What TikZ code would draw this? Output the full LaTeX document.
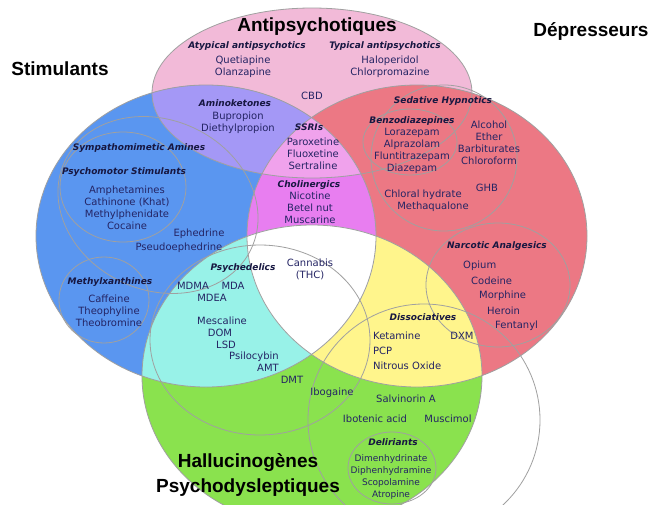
\documentclass[tikz,border=0pt]{standalone}
\usepackage{fontspec}
\setmainfont{DejaVu Sans}
\newfontfamily\headfont{Liberation Sans}
\usepackage{tikz}
\definecolor{antip}{RGB}{242, 186, 216}
\definecolor{stim}{RGB}{90, 150, 240}
\definecolor{depr}{RGB}{236, 120, 132}
\definecolor{hallu}{RGB}{138, 226, 78}
\definecolor{amino}{RGB}{164, 152, 246}
\definecolor{ssri}{RGB}{240, 162, 236}
\definecolor{choli}{RGB}{232, 126, 240}
\definecolor{psyche}{RGB}{152, 242, 232}
\definecolor{disso}{RGB}{255, 245, 140}
\definecolor{ink}{RGB}{36, 36, 100}
\definecolor{rim}{RGB}{160, 160, 160}

\def\antipshape{(312, 93) ellipse [x radius=160pt, y radius=85pt]}
\def\stimshape{(206, 236) ellipse [x radius=170pt, y radius=151pt]}
\def\deprshape{(417, 236) ellipse [x radius=170pt, y radius=151pt]}
\def\hallushape{(312, 376) ellipse [x radius=170pt, y radius=151pt]}

\tikzset{
  drugname/.style={text=ink, font=\fontsize{10}{12}\selectfont, align=center, inner sep=0pt},
  drugsmall/.style={drugname, font=\fontsize{9}{11.7}\selectfont},
  groupname/.style={text=ink!65!black, font=\fontsize{9}{11}\selectfont\bfseries\itshape, inner sep=0pt},
  classname/.style={font=\fontsize{19}{25}\selectfont\headfont\bfseries, align=center, inner sep=0pt},
  ring/.style={draw=rim, line width=0.8pt}
}

\begin{document}
\begin{tikzpicture}[x=1pt, y=-1pt]
  \useasboundingbox (0, 0) rectangle (662, 504);
  \fill[white] (0, 0) rectangle (662, 504);

  % the four classes and their overlaps
  \fill[antip] \antipshape;
  \fill[stim] \stimshape;
  \fill[depr] \deprshape;
  \fill[hallu] \hallushape;
  \begin{scope}
    \clip \deprshape;
    \fill[disso] \hallushape;
  \end{scope}
  \begin{scope}
    \clip \stimshape;
    \fill[choli] \deprshape;
    \fill[psyche] \hallushape;
    \fill[amino] \antipshape;
    \clip \deprshape;
    \fill[ssri] \antipshape;
    \fill[white] \hallushape;
  \end{scope}

  \foreach \s in {\antipshape, \stimshape, \deprshape, \hallushape}
    \draw[ring] \s;

  % sub groups
  \draw[ring, rotate around={-25:(158, 205)}] (158, 205) ellipse [x radius=103pt, y radius=85pt];
  \draw[ring] (123, 187) ellipse [x radius=63pt, y radius=55pt];
  \draw[ring] (104, 300) ellipse [x radius=45pt, y radius=43pt];
  \draw[ring] (260, 340) ellipse [x radius=110pt, y radius=95pt];
  \draw[ring] (424, 420) circle (116pt);
  \draw[ring] (498, 285) ellipse [x radius=72pt, y radius=62pt];
  \draw[ring] (444, 158) circle (73pt);
  \draw[ring] (410, 142) ellipse [x radius=47pt, y radius=33pt];
  \draw[ring] (392, 468) ellipse [x radius=44pt, y radius=36pt];

  % class names
  \node[classname] (antipsy) at (317, 27) {Antipsychotiques};
  \node[classname] (depress) at (591, 32) {Dépresseurs};
  \node[classname] (stimul) at (60, 69) {Stimulants};
  \node[classname] (halluc) at (248, 475) {Hallucinogènes\\Psychodysleptiques};

  % antipsychotics
  \node[groupname] (atypical) at (247, 46) {Atypical antipsychotics};
  \node[groupname] (typical) at (385, 46) {Typical antipsychotics};
  \node[drugname] (quetia) at (243, 67) {Quetiapine\\Olanzapine};
  \node[drugname] (halop) at (390, 67) {Haloperidol\\Chlorpromazine};
  \node[drugname] (cbd) at (312, 96) {CBD};

  % stimulants
  \node[groupname] (aminok) at (235, 103) {Aminoketones};
  \node[drugname] (bupro) at (238, 123) {Bupropion\\Diethylpropion};
  \node[groupname] (ssris) at (309, 127) {SSRIs};
  \node[drugname] (parox) at (313, 154) {Paroxetine\\Fluoxetine\\Sertraline};
  \node[groupname] (cholin) at (309, 185) {Cholinergics};
  \node[drugname] (nicot) at (310, 208) {Nicotine\\Betel nut\\Muscarine};
  \node[groupname] (sympath) at (139, 148) {Sympathomimetic Amines};
  \node[groupname] (psychomot) at (124, 172) {Psychomotor Stimulants};
  \node[drugname] (amphet) at (127, 208) {Amphetamines\\Cathinone (Khat)\\Methylphenidate\\Cocaine};
  \node[drugname] (ephed) at (199, 234) {Ephedrine};
  \node[drugname] (pseudo) at (179, 248) {Pseudoephedrine};
  \node[groupname] (methylx) at (110, 282) {Methylxanthines};
  \node[drugname] (caffe) at (109, 311) {Caffeine\\Theophyline\\Theobromine};

  % psychedelics
  \node[groupname] (psyched) at (243, 268) {Psychedelics};
  \node[drugname] (cannab) at (310, 269) {Cannabis\\(THC)};
  \node[drugname] (mdma) at (193, 286) {MDMA};
  \node[drugname] (mda) at (233, 286) {MDA};
  \node[drugname] (mdea) at (212, 298) {MDEA};
  \foreach [count=\n] \d/\x/\y in {Mescaline/222/321, DOM/220/333, LSD/226/345,
                                   Psilocybin/254/357, AMT/268/368}
    \node[drugname] (psy\n) at (\x, \y) {\d};

  % depressants
  \node[groupname] (sedhyp) at (443, 101) {Sedative Hypnotics};
  \node[groupname] (benzo) at (412, 121) {Benzodiazepines};
  \node[drugname] (loraz) at (412, 151) {Lorazepam\\Alprazolam\\Fluntitrazepam\\Diazepam};
  \node[drugname] (alcoh) at (489, 143) {Alcohol\\Ether\\Barbiturates\\Chloroform};
  \node[drugname] (ghb) at (487, 188) {GHB};
  \node[drugname] (chloral) at (423, 195) {Chloral hydrate};
  \node[drugname] (methaq) at (433, 207) {Methaqualone};
  \node[groupname] (narcan) at (497, 246) {Narcotic Analgesics};
  \foreach [count=\n] \d in {Opium, Codeine, Morphine, Heroin, Fentanyl}
    \node[drugname, anchor=west] (narc\n) at ({455 + 8 * \n}, {251 + 15 * \n}) {\d};

  % dissociatives and the rest
  \node[groupname] (dissoc) at (423, 317) {Dissociatives};
  \foreach [count=\n] \d in {Ketamine, PCP, Nitrous Oxide}
    \node[drugname, anchor=west] (diss\n) at (373, {321 + 15 * \n}) {\d};
  \node[drugname] (dxm) at (462, 336) {DXM};
  \node[drugname] (dmt) at (292, 380) {DMT};
  \node[drugname] (ibog) at (332, 393) {Ibogaine};
  \node[drugname] (salvin) at (406, 399) {Salvinorin A};
  \node[drugname] (ibot) at (375, 419) {Ibotenic acid};
  \node[drugname] (muscim) at (448, 419) {Muscimol};
  \node[groupname] (delir) at (393, 442) {Deliriants};
  \node[drugsmall] (dimen) at (391, 477) {Dimenhydrinate\\Diphenhydramine\\Scopolamine\\Atropine};
\end{tikzpicture}
\end{document}
